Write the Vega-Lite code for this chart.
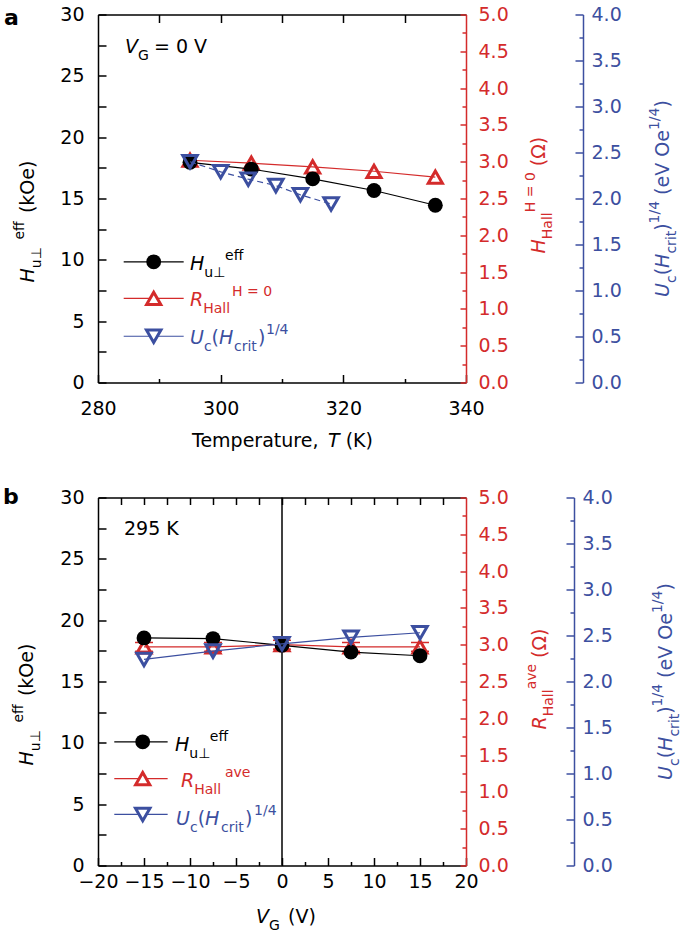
{
"$schema": "https://vega.github.io/schema/vega-lite/v6.json",
"padding": {"left": 2, "top": 5.5, "right": 0, "bottom": 0},
"bounds": "flush",
"spacing": 115,
"config": {
  "view": {"stroke": null},
  "font": "DejaVu Sans",
  "axis": {"grid": false, "labelFont": "DejaVu Sans", "labelFontSize": 19, "labelColor": "black", "domainWidth": 1.5, "tickWidth": 1.5, "domainColor": "black", "tickColor": "black", "labelOverlap": false, "labelFlush": false, "labelBound": false}
},
"datasets": {
  "aH": [{"T":295,"H":17.95},{"T":305,"H":17.4},{"T":315,"H":16.6},{"T":325,"H":15.65},{"T":335,"H":14.45}],
  "aR": [{"T":295,"R":3.02},{"T":305,"R":2.98},{"T":315,"R":2.93},{"T":325,"R":2.87},{"T":335,"R":2.79}],
  "aU": [{"T":295,"U":2.40},{"T":300,"U":2.29},{"T":304.5,"U":2.21},{"T":309,"U":2.14},{"T":313,"U":2.04},{"T":318,"U":1.94}],
  "aL": [{"c":"k","x1":284.19,"x2":293.97,"xm":289.08,"y":9.84},{"c":"r","x1":284.19,"x2":293.97,"xm":289.08,"y":6.85},{"c":"b","x1":284.19,"x2":293.97,"xm":289.08,"y":3.77}],
  "aT": [
    {"t":"a","x":264.67,"y":29.18,"k":"bold","c":"k"},
    {"t":"V","x":284.40,"y":26.90,"k":"var","c":"k"},
    {"t":"G","x":286.52,"y":26.90,"k":"sub","c":"k"},
    {"t":"= 0 V","x":289.13,"y":26.90,"k":"txt","c":"k"},
    {"t":"H","x":295.00,"y":9.21,"k":"var","c":"k"},
    {"t":"u⊥","x":297.33,"y":9.21,"k":"sub","c":"k"},
    {"t":"eff","x":300.71,"y":9.21,"k":"sup","c":"k"},
    {"t":"R","x":295.00,"y":6.20,"k":"var","c":"r"},
    {"t":"Hall","x":297.15,"y":6.20,"k":"sub","c":"r"},
    {"t":"H = 0","x":301.85,"y":6.20,"k":"sup","c":"r"},
    {"t":"U","x":295.00,"y":3.10,"k":"var","c":"b"},
    {"t":"c","x":297.27,"y":3.10,"k":"sub","c":"b"},
    {"t":"(","x":298.52,"y":3.10,"k":"txt","c":"b"},
    {"t":"H","x":299.73,"y":3.10,"k":"var","c":"b"},
    {"t":"crit","x":302.17,"y":3.10,"k":"sub","c":"b"},
    {"t":")","x":306.09,"y":3.10,"k":"txt","c":"b"},
    {"t":"1/4","x":307.39,"y":3.10,"k":"sup","c":"b"},
    {"t":"Temperature,","x":295.33,"y":-5.22,"k":"txt","c":"k"},
    {"t":"T","x":317.52,"y":-5.22,"k":"var","c":"k"},
    {"t":"(K)","x":320.38,"y":-5.22,"k":"txt","c":"k"},
    {"t":"H","x":269.57,"y":8.15,"k":"rvar","c":"k"},
    {"t":"u⊥","x":269.57,"y":9.32,"k":"rsub","c":"k"},
    {"t":"eff","x":269.57,"y":11.65,"k":"rsup","c":"k"},
    {"t":"(kOe)","x":269.57,"y":13.81,"k":"rtxt","c":"k"},
    {"t":"H","x":352.88,"y":10.52,"k":"rvar","c":"r"},
    {"t":"Hall","x":352.88,"y":11.68,"k":"rsub","c":"r"},
    {"t":"H = 0","x":352.88,"y":13.88,"k":"rsup","c":"r"},
    {"t":"(Ω)","x":352.88,"y":17.63,"k":"rtxt","c":"r"},
    {"t":"U","x":373.10,"y":6.98,"k":"rvar","c":"b"},
    {"t":"c","x":373.10,"y":8.11,"k":"rsub","c":"b"},
    {"t":"(","x":373.10,"y":8.74,"k":"rtxt","c":"b"},
    {"t":"H","x":373.10,"y":9.34,"k":"rvar","c":"b"},
    {"t":"crit","x":373.10,"y":10.51,"k":"rsub","c":"b"},
    {"t":")","x":373.10,"y":12.37,"k":"rtxt","c":"b"},
    {"t":"1/4","x":373.10,"y":12.97,"k":"rsup","c":"b"},
    {"t":"(eV Oe","x":373.10,"y":15.29,"k":"rtxt","c":"b"},
    {"t":"1/4","x":373.10,"y":20.58,"k":"rsup","c":"b"},
    {"t":")","x":373.10,"y":22.41,"k":"rtxt","c":"b"}
  ],
  "bH": [{"V":-15,"H":18.55},{"V":-7.5,"H":18.5},{"V":0,"H":17.95},{"V":7.5,"H":17.4},{"V":15,"H":17.1}],
  "bR": [{"V":-15,"R":2.97,"lo":2.91,"hi":3.03},{"V":-7.5,"R":2.97,"lo":2.91,"hi":3.03},{"V":0,"R":3.0,"lo":2.94,"hi":3.06},{"V":7.5,"R":2.97,"lo":2.91,"hi":3.03},{"V":15,"R":2.97,"lo":2.91,"hi":3.03}],
  "bU": [{"V":-15,"U":2.24},{"V":-7.5,"U":2.33},{"V":0,"U":2.41},{"V":7.5,"U":2.48},{"V":15,"U":2.53}],
  "bZ": [{"V":0}],
  "bL": [{"c":"k","x1":-18.23,"x2":-12.43,"xm":-15.14,"y":10.08},{"c":"r","x1":-18.23,"x2":-12.43,"xm":-15.14,"y":7.09},{"c":"b","x1":-18.23,"x2":-12.43,"xm":-15.14,"y":4.16}],
  "bT": [
    {"t":"b","x":-30.33,"y":29.43,"k":"bold","c":"k"},
    {"t":"295 K","x":-17.17,"y":26.98,"k":"txt","c":"k"},
    {"t":"H","x":-11.63,"y":9.375,"k":"var","c":"k"},
    {"t":"u⊥","x":-10.08,"y":9.375,"k":"sub","c":"k"},
    {"t":"eff","x":-7.84,"y":9.375,"k":"sup","c":"k"},
    {"t":"R","x":-10.98,"y":6.36,"k":"var","c":"r"},
    {"t":"Hall","x":-9.54,"y":6.36,"k":"sub","c":"r"},
    {"t":"ave","x":-6.20,"y":6.36,"k":"sup","c":"r"},
    {"t":"U","x":-11.52,"y":3.34,"k":"var","c":"b"},
    {"t":"c","x":-10.01,"y":3.34,"k":"sub","c":"b"},
    {"t":"(","x":-9.17,"y":3.34,"k":"txt","c":"b"},
    {"t":"H","x":-8.37,"y":3.34,"k":"var","c":"b"},
    {"t":"crit","x":-6.63,"y":3.34,"k":"sub","c":"b"},
    {"t":")","x":-4.02,"y":3.34,"k":"txt","c":"b"},
    {"t":"1/4","x":-3.04,"y":3.34,"k":"sup","c":"b"},
    {"t":"V","x":-2.83,"y":-4.65,"k":"var","c":"k"},
    {"t":"G","x":-1.41,"y":-4.65,"k":"sub","c":"k"},
    {"t":"(V)","x":0.65,"y":-4.65,"k":"txt","c":"k"},
    {"t":"H","x":-27.07,"y":8.15,"k":"rvar","c":"k"},
    {"t":"u⊥","x":-27.07,"y":9.32,"k":"rsub","c":"k"},
    {"t":"eff","x":-27.07,"y":11.65,"k":"rsup","c":"k"},
    {"t":"(kOe)","x":-27.07,"y":13.81,"k":"rtxt","c":"k"},
    {"t":"R","x":28.70,"y":11.09,"k":"rvar","c":"r"},
    {"t":"Hall","x":28.70,"y":12.16,"k":"rsub","c":"r"},
    {"t":"ave","x":28.70,"y":14.36,"k":"rsup","c":"r"},
    {"t":"(Ω)","x":28.70,"y":16.92,"k":"rtxt","c":"r"},
    {"t":"U","x":42.39,"y":6.98,"k":"rvar","c":"b"},
    {"t":"c","x":42.39,"y":8.11,"k":"rsub","c":"b"},
    {"t":"(","x":42.39,"y":8.74,"k":"rtxt","c":"b"},
    {"t":"H","x":42.39,"y":9.34,"k":"rvar","c":"b"},
    {"t":"crit","x":42.39,"y":10.51,"k":"rsub","c":"b"},
    {"t":")","x":42.39,"y":12.37,"k":"rtxt","c":"b"},
    {"t":"1/4","x":42.39,"y":12.97,"k":"rsup","c":"b"},
    {"t":"(eV Oe","x":42.39,"y":15.29,"k":"rtxt","c":"b"},
    {"t":"1/4","x":42.39,"y":20.58,"k":"rsup","c":"b"},
    {"t":")","x":42.39,"y":22.41,"k":"rtxt","c":"b"}
  ]
},
"vconcat": [
{
  "width": 368, "height": 368,
  "resolve": {"scale": {"y": "independent"}, "axis": {"x": "independent", "y": "independent"}},
  "layer": [
    {"data": {"name": "aR"}, "mark": {"type": "line", "color": "#d42b2b", "strokeWidth": 1.2},
     "encoding": {
      "x": {"field": "T", "type": "quantitative", "scale": {"domain": [280, 340], "nice": false}, "axis": {"orient": "top", "values": [290, 300, 310, 320, 330], "labels": false, "tickSize": -8, "title": null}},
      "y": {"field": "R", "type": "quantitative", "scale": {"domain": [0, 5], "nice": false}, "axis": {"orient": "right", "values": [0,0.5,1,1.5,2,2.5,3,3.5,4,4.5,5], "format": ".1f", "tickSize": -6, "labelPadding": 18, "domainColor": "#d42b2b", "tickColor": "#d42b2b", "labelColor": "#d42b2b", "title": null}}}},
    {"data": {"name": "aR"}, "mark": {"type": "point", "shape": "triangle-up", "filled": false, "color": "#d42b2b", "strokeWidth": 3, "size": 200, "opacity": 1},
     "encoding": {
      "x": {"field": "T", "type": "quantitative", "scale": {"domain": [280, 340], "nice": false}, "axis": null},
      "y": {"field": "R", "type": "quantitative", "scale": {"domain": [0, 5], "nice": false}, "axis": {"orient": "right", "values": [0.25,0.75,1.25,1.75,2.25,2.75,3.25,3.75,4.25,4.75], "labels": false, "domain": false, "tickSize": -4, "tickColor": "#d42b2b", "title": null}}}},
    {"data": {"name": "aH"}, "mark": {"type": "line", "color": "black", "strokeWidth": 1.2},
     "encoding": {
      "x": {"field": "T", "type": "quantitative", "scale": {"domain": [280, 340], "nice": false}, "axis": {"orient": "bottom", "values": [280, 300, 320, 340], "tickSize": -8, "labelPadding": 25, "title": null}},
      "y": {"field": "H", "type": "quantitative", "scale": {"domain": [0, 30], "nice": false}, "axis": {"orient": "left", "values": [0,2.5,5,7.5,10,12.5,15,17.5,20,22.5,25,27.5,30], "labelExpr": "datum.value % 5 === 0 ? datum.label : ''", "tickSize": -8, "labelPadding": 22, "title": null}}}},
    {"data": {"name": "aH"}, "mark": {"type": "circle", "color": "black", "size": 220, "opacity": 1},
     "encoding": {
      "x": {"field": "T", "type": "quantitative", "scale": {"domain": [280, 340], "nice": false}, "axis": {"orient": "bottom", "values": [290, 310, 330], "labels": false, "domain": false, "tickSize": -4, "title": null}},
      "y": {"field": "H", "type": "quantitative", "scale": {"domain": [0, 30], "nice": false}, "axis": null}}},
    {"data": {"name": "aU"}, "mark": {"type": "line", "color": "#3c4fa0", "strokeWidth": 1.2, "strokeDash": [6, 4]},
     "encoding": {
      "x": {"field": "T", "type": "quantitative", "scale": {"domain": [280, 340], "nice": false}, "axis": null},
      "y": {"field": "U", "type": "quantitative", "scale": {"domain": [0, 4], "nice": false}, "axis": {"orient": "right", "offset": 117, "values": [0,0.5,1,1.5,2,2.5,3,3.5,4], "format": ".1f", "tickSize": -8, "labelPadding": 16, "domainColor": "#3c4fa0", "tickColor": "#3c4fa0", "labelColor": "#3c4fa0", "title": null}}}},
    {"data": {"name": "aU"}, "mark": {"type": "point", "shape": "triangle-down", "filled": false, "color": "#3c4fa0", "strokeWidth": 3, "size": 210, "opacity": 1},
     "encoding": {
      "x": {"field": "T", "type": "quantitative", "scale": {"domain": [280, 340], "nice": false}, "axis": null},
      "y": {"field": "U", "type": "quantitative", "scale": {"domain": [0, 4], "nice": false}, "axis": {"orient": "right", "offset": 117, "values": [0.25,0.75,1.25,1.75,2.25,2.75,3.25,3.75], "labels": false, "domain": false, "tickSize": -4, "tickColor": "#3c4fa0", "title": null}}}},
    {"data": {"name": "aL"}, "mark": {"type": "rule", "strokeWidth": 1.2},
     "encoding": {
      "x": {"field": "x1", "type": "quantitative", "scale": {"domain": [280, 340], "nice": false}, "axis": null},
      "x2": {"field": "x2"},
      "y": {"field": "y", "type": "quantitative", "scale": {"domain": [0, 30], "nice": false}, "axis": null},
      "color": {"field": "c", "type": "nominal", "scale": {"domain": ["k", "r", "b"], "range": ["#000000", "#d42b2b", "#3c4fa0"]}, "legend": null}}},
    {"data": {"name": "aL"}, "transform": [{"filter": "datum.c === 'k'"}], "mark": {"type": "circle", "color": "black", "size": 220, "opacity": 1},
     "encoding": {
      "x": {"field": "xm", "type": "quantitative", "scale": {"domain": [280, 340], "nice": false}, "axis": null},
      "y": {"field": "y", "type": "quantitative", "scale": {"domain": [0, 30], "nice": false}, "axis": null}}},
    {"data": {"name": "aL"}, "transform": [{"filter": "datum.c === 'r'"}], "mark": {"type": "point", "shape": "triangle-up", "filled": true, "fill": "white", "stroke": "#d42b2b", "strokeWidth": 3, "size": 200, "opacity": 1},
     "encoding": {
      "x": {"field": "xm", "type": "quantitative", "scale": {"domain": [280, 340], "nice": false}, "axis": null},
      "y": {"field": "y", "type": "quantitative", "scale": {"domain": [0, 30], "nice": false}, "axis": null}}},
    {"data": {"name": "aL"}, "transform": [{"filter": "datum.c === 'b'"}], "mark": {"type": "point", "shape": "triangle-down", "filled": true, "fill": "white", "stroke": "#3c4fa0", "strokeWidth": 3, "size": 210, "opacity": 1},
     "encoding": {
      "x": {"field": "xm", "type": "quantitative", "scale": {"domain": [280, 340], "nice": false}, "axis": null},
      "y": {"field": "y", "type": "quantitative", "scale": {"domain": [0, 30], "nice": false}, "axis": null}}},
    {"data": {"name": "aT"}, "transform": [{"filter": "datum.k === 'bold'"}], "mark": {"type": "text", "font": "DejaVu Sans", "fontSize": 22, "fontWeight": "bold", "align": "left", "baseline": "alphabetic"},
     "encoding": {"x": {"field": "x", "type": "quantitative", "scale": {"domain": [280, 340], "nice": false}, "axis": null}, "y": {"field": "y", "type": "quantitative", "scale": {"domain": [0, 30], "nice": false}, "axis": null}, "text": {"field": "t"}, "color": {"field": "c", "type": "nominal", "scale": {"domain": ["k", "r", "b"], "range": ["#000000", "#d42b2b", "#3c4fa0"]}, "legend": null}}},
    {"data": {"name": "aT"}, "transform": [{"filter": "datum.k === 'var'"}], "mark": {"type": "text", "font": "DejaVu Sans", "fontSize": 19, "fontStyle": "italic", "align": "left", "baseline": "alphabetic"},
     "encoding": {"x": {"field": "x", "type": "quantitative", "scale": {"domain": [280, 340], "nice": false}, "axis": null}, "y": {"field": "y", "type": "quantitative", "scale": {"domain": [0, 30], "nice": false}, "axis": null}, "text": {"field": "t"}, "color": {"field": "c", "type": "nominal", "scale": {"domain": ["k", "r", "b"], "range": ["#000000", "#d42b2b", "#3c4fa0"]}, "legend": null}}},
    {"data": {"name": "aT"}, "transform": [{"filter": "datum.k === 'txt'"}], "mark": {"type": "text", "font": "DejaVu Sans", "fontSize": 19, "align": "left", "baseline": "alphabetic"},
     "encoding": {"x": {"field": "x", "type": "quantitative", "scale": {"domain": [280, 340], "nice": false}, "axis": null}, "y": {"field": "y", "type": "quantitative", "scale": {"domain": [0, 30], "nice": false}, "axis": null}, "text": {"field": "t"}, "color": {"field": "c", "type": "nominal", "scale": {"domain": ["k", "r", "b"], "range": ["#000000", "#d42b2b", "#3c4fa0"]}, "legend": null}}},
    {"data": {"name": "aT"}, "transform": [{"filter": "datum.k === 'sub'"}], "mark": {"type": "text", "font": "DejaVu Sans", "fontSize": 14, "dy": 7, "align": "left", "baseline": "alphabetic"},
     "encoding": {"x": {"field": "x", "type": "quantitative", "scale": {"domain": [280, 340], "nice": false}, "axis": null}, "y": {"field": "y", "type": "quantitative", "scale": {"domain": [0, 30], "nice": false}, "axis": null}, "text": {"field": "t"}, "color": {"field": "c", "type": "nominal", "scale": {"domain": ["k", "r", "b"], "range": ["#000000", "#d42b2b", "#3c4fa0"]}, "legend": null}}},
    {"data": {"name": "aT"}, "transform": [{"filter": "datum.k === 'sup'"}], "mark": {"type": "text", "font": "DejaVu Sans", "fontSize": 14, "dy": -10, "align": "left", "baseline": "alphabetic"},
     "encoding": {"x": {"field": "x", "type": "quantitative", "scale": {"domain": [280, 340], "nice": false}, "axis": null}, "y": {"field": "y", "type": "quantitative", "scale": {"domain": [0, 30], "nice": false}, "axis": null}, "text": {"field": "t"}, "color": {"field": "c", "type": "nominal", "scale": {"domain": ["k", "r", "b"], "range": ["#000000", "#d42b2b", "#3c4fa0"]}, "legend": null}}},
    {"data": {"name": "aT"}, "transform": [{"filter": "datum.k === 'rvar'"}], "mark": {"type": "text", "font": "DejaVu Sans", "fontSize": 19, "fontStyle": "italic", "angle": 270, "align": "left", "baseline": "alphabetic"},
     "encoding": {"x": {"field": "x", "type": "quantitative", "scale": {"domain": [280, 340], "nice": false}, "axis": null}, "y": {"field": "y", "type": "quantitative", "scale": {"domain": [0, 30], "nice": false}, "axis": null}, "text": {"field": "t"}, "color": {"field": "c", "type": "nominal", "scale": {"domain": ["k", "r", "b"], "range": ["#000000", "#d42b2b", "#3c4fa0"]}, "legend": null}}},
    {"data": {"name": "aT"}, "transform": [{"filter": "datum.k === 'rtxt'"}], "mark": {"type": "text", "font": "DejaVu Sans", "fontSize": 19, "angle": 270, "align": "left", "baseline": "alphabetic"},
     "encoding": {"x": {"field": "x", "type": "quantitative", "scale": {"domain": [280, 340], "nice": false}, "axis": null}, "y": {"field": "y", "type": "quantitative", "scale": {"domain": [0, 30], "nice": false}, "axis": null}, "text": {"field": "t"}, "color": {"field": "c", "type": "nominal", "scale": {"domain": ["k", "r", "b"], "range": ["#000000", "#d42b2b", "#3c4fa0"]}, "legend": null}}},
    {"data": {"name": "aT"}, "transform": [{"filter": "datum.k === 'rsub'"}], "mark": {"type": "text", "font": "DejaVu Sans", "fontSize": 14, "dy": 7, "angle": 270, "align": "left", "baseline": "alphabetic"},
     "encoding": {"x": {"field": "x", "type": "quantitative", "scale": {"domain": [280, 340], "nice": false}, "axis": null}, "y": {"field": "y", "type": "quantitative", "scale": {"domain": [0, 30], "nice": false}, "axis": null}, "text": {"field": "t"}, "color": {"field": "c", "type": "nominal", "scale": {"domain": ["k", "r", "b"], "range": ["#000000", "#d42b2b", "#3c4fa0"]}, "legend": null}}},
    {"data": {"name": "aT"}, "transform": [{"filter": "datum.k === 'rsup'"}], "mark": {"type": "text", "font": "DejaVu Sans", "fontSize": 14, "dy": -10, "angle": 270, "align": "left", "baseline": "alphabetic"},
     "encoding": {"x": {"field": "x", "type": "quantitative", "scale": {"domain": [280, 340], "nice": false}, "axis": null}, "y": {"field": "y", "type": "quantitative", "scale": {"domain": [0, 30], "nice": false}, "axis": null}, "text": {"field": "t"}, "color": {"field": "c", "type": "nominal", "scale": {"domain": ["k", "r", "b"], "range": ["#000000", "#d42b2b", "#3c4fa0"]}, "legend": null}}}
  ]
},
{
  "width": 368, "height": 368,
  "resolve": {"scale": {"y": "independent"}, "axis": {"x": "independent", "y": "independent"}},
  "layer": [
    {"data": {"name": "bZ"}, "mark": {"type": "rule", "color": "black", "strokeWidth": 1.5},
     "encoding": {"x": {"field": "V", "type": "quantitative", "scale": {"domain": [-20, 20], "nice": false}, "axis": null}}},
    {"data": {"name": "bR"}, "mark": {"type": "line", "color": "#d42b2b", "strokeWidth": 1.2},
     "encoding": {
      "x": {"field": "V", "type": "quantitative", "scale": {"domain": [-20, 20], "nice": false}, "axis": {"orient": "top", "values": [-17.5,-15,-12.5,-10,-7.5,-5,-2.5,0,2.5,5,7.5,10,12.5,15,17.5], "labels": false, "tickSize": -7, "title": null}},
      "y": {"field": "R", "type": "quantitative", "scale": {"domain": [0, 5], "nice": false}, "axis": {"orient": "right", "values": [0,0.5,1,1.5,2,2.5,3,3.5,4,4.5,5], "format": ".1f", "tickSize": -6, "labelPadding": 18, "domainColor": "#d42b2b", "tickColor": "#d42b2b", "labelColor": "#d42b2b", "title": null}}}},
    {"data": {"name": "bR"}, "mark": {"type": "point", "shape": "triangle-up", "filled": false, "color": "#d42b2b", "strokeWidth": 3, "size": 200, "opacity": 1},
     "encoding": {
      "x": {"field": "V", "type": "quantitative", "scale": {"domain": [-20, 20], "nice": false}, "axis": null},
      "y": {"field": "R", "type": "quantitative", "scale": {"domain": [0, 5], "nice": false}, "axis": {"orient": "right", "values": [0.25,0.75,1.25,1.75,2.25,2.75,3.25,3.75,4.25,4.75], "labels": false, "domain": false, "tickSize": -4, "tickColor": "#d42b2b", "title": null}}}},
    {"data": {"name": "bR"}, "mark": {"type": "tick", "orient": "horizontal", "color": "#d42b2b", "size": 18, "thickness": 1.5, "opacity": 1},
     "encoding": {
      "x": {"field": "V", "type": "quantitative", "scale": {"domain": [-20, 20], "nice": false}, "axis": null},
      "y": {"field": "lo", "type": "quantitative", "scale": {"domain": [0, 5], "nice": false}, "axis": null}}},
    {"data": {"name": "bR"}, "mark": {"type": "tick", "orient": "horizontal", "color": "#d42b2b", "size": 18, "thickness": 1.5, "opacity": 1},
     "encoding": {
      "x": {"field": "V", "type": "quantitative", "scale": {"domain": [-20, 20], "nice": false}, "axis": null},
      "y": {"field": "hi", "type": "quantitative", "scale": {"domain": [0, 5], "nice": false}, "axis": null}}},
    {"data": {"name": "bH"}, "mark": {"type": "line", "color": "black", "strokeWidth": 1.2},
     "encoding": {
      "x": {"field": "V", "type": "quantitative", "scale": {"domain": [-20, 20], "nice": false}, "axis": {"orient": "bottom", "values": [-20,-15,-10,-5,0,5,10,15,20], "tickSize": -8, "labelPadding": 15, "title": null}},
      "y": {"field": "H", "type": "quantitative", "scale": {"domain": [0, 30], "nice": false}, "axis": {"orient": "left", "values": [0,2.5,5,7.5,10,12.5,15,17.5,20,22.5,25,27.5,30], "labelExpr": "datum.value % 5 === 0 ? datum.label : ''", "tickSize": -8, "labelPadding": 22, "title": null}}}},
    {"data": {"name": "bH"}, "mark": {"type": "circle", "color": "black", "size": 220, "opacity": 1},
     "encoding": {
      "x": {"field": "V", "type": "quantitative", "scale": {"domain": [-20, 20], "nice": false}, "axis": {"orient": "bottom", "values": [-17.5,-12.5,-7.5,-2.5,2.5,7.5,12.5,17.5], "labels": false, "domain": false, "tickSize": -4, "title": null}},
      "y": {"field": "H", "type": "quantitative", "scale": {"domain": [0, 30], "nice": false}, "axis": null}}},
    {"data": {"name": "bU"}, "mark": {"type": "line", "color": "#3c4fa0", "strokeWidth": 1.2},
     "encoding": {
      "x": {"field": "V", "type": "quantitative", "scale": {"domain": [-20, 20], "nice": false}, "axis": null},
      "y": {"field": "U", "type": "quantitative", "scale": {"domain": [0, 4], "nice": false}, "axis": {"orient": "right", "offset": 108, "values": [0,0.5,1,1.5,2,2.5,3,3.5,4], "format": ".1f", "tickSize": -8, "labelPadding": 16, "domainColor": "#3c4fa0", "tickColor": "#3c4fa0", "labelColor": "#3c4fa0", "title": null}}}},
    {"data": {"name": "bU"}, "mark": {"type": "point", "shape": "triangle-down", "filled": false, "color": "#3c4fa0", "strokeWidth": 3, "size": 210, "opacity": 1},
     "encoding": {
      "x": {"field": "V", "type": "quantitative", "scale": {"domain": [-20, 20], "nice": false}, "axis": null},
      "y": {"field": "U", "type": "quantitative", "scale": {"domain": [0, 4], "nice": false}, "axis": {"orient": "right", "offset": 108, "values": [0.25,0.75,1.25,1.75,2.25,2.75,3.25,3.75], "labels": false, "domain": false, "tickSize": -4, "tickColor": "#3c4fa0", "title": null}}}},
    {"data": {"name": "bL"}, "mark": {"type": "rule", "strokeWidth": 1.2},
     "encoding": {
      "x": {"field": "x1", "type": "quantitative", "scale": {"domain": [-20, 20], "nice": false}, "axis": null},
      "x2": {"field": "x2"},
      "y": {"field": "y", "type": "quantitative", "scale": {"domain": [0, 30], "nice": false}, "axis": null},
      "color": {"field": "c", "type": "nominal", "scale": {"domain": ["k", "r", "b"], "range": ["#000000", "#d42b2b", "#3c4fa0"]}, "legend": null}}},
    {"data": {"name": "bL"}, "transform": [{"filter": "datum.c === 'k'"}], "mark": {"type": "circle", "color": "black", "size": 220, "opacity": 1},
     "encoding": {
      "x": {"field": "xm", "type": "quantitative", "scale": {"domain": [-20, 20], "nice": false}, "axis": null},
      "y": {"field": "y", "type": "quantitative", "scale": {"domain": [0, 30], "nice": false}, "axis": null}}},
    {"data": {"name": "bL"}, "transform": [{"filter": "datum.c === 'r'"}], "mark": {"type": "point", "shape": "triangle-up", "filled": true, "fill": "white", "stroke": "#d42b2b", "strokeWidth": 3, "size": 200, "opacity": 1},
     "encoding": {
      "x": {"field": "xm", "type": "quantitative", "scale": {"domain": [-20, 20], "nice": false}, "axis": null},
      "y": {"field": "y", "type": "quantitative", "scale": {"domain": [0, 30], "nice": false}, "axis": null}}},
    {"data": {"name": "bL"}, "transform": [{"filter": "datum.c === 'b'"}], "mark": {"type": "point", "shape": "triangle-down", "filled": true, "fill": "white", "stroke": "#3c4fa0", "strokeWidth": 3, "size": 210, "opacity": 1},
     "encoding": {
      "x": {"field": "xm", "type": "quantitative", "scale": {"domain": [-20, 20], "nice": false}, "axis": null},
      "y": {"field": "y", "type": "quantitative", "scale": {"domain": [0, 30], "nice": false}, "axis": null}}},
    {"data": {"name": "bT"}, "transform": [{"filter": "datum.k === 'bold'"}], "mark": {"type": "text", "font": "DejaVu Sans", "fontSize": 22, "fontWeight": "bold", "align": "left", "baseline": "alphabetic"},
     "encoding": {"x": {"field": "x", "type": "quantitative", "scale": {"domain": [-20, 20], "nice": false}, "axis": null}, "y": {"field": "y", "type": "quantitative", "scale": {"domain": [0, 30], "nice": false}, "axis": null}, "text": {"field": "t"}, "color": {"field": "c", "type": "nominal", "scale": {"domain": ["k", "r", "b"], "range": ["#000000", "#d42b2b", "#3c4fa0"]}, "legend": null}}},
    {"data": {"name": "bT"}, "transform": [{"filter": "datum.k === 'var'"}], "mark": {"type": "text", "font": "DejaVu Sans", "fontSize": 19, "fontStyle": "italic", "align": "left", "baseline": "alphabetic"},
     "encoding": {"x": {"field": "x", "type": "quantitative", "scale": {"domain": [-20, 20], "nice": false}, "axis": null}, "y": {"field": "y", "type": "quantitative", "scale": {"domain": [0, 30], "nice": false}, "axis": null}, "text": {"field": "t"}, "color": {"field": "c", "type": "nominal", "scale": {"domain": ["k", "r", "b"], "range": ["#000000", "#d42b2b", "#3c4fa0"]}, "legend": null}}},
    {"data": {"name": "bT"}, "transform": [{"filter": "datum.k === 'txt'"}], "mark": {"type": "text", "font": "DejaVu Sans", "fontSize": 19, "align": "left", "baseline": "alphabetic"},
     "encoding": {"x": {"field": "x", "type": "quantitative", "scale": {"domain": [-20, 20], "nice": false}, "axis": null}, "y": {"field": "y", "type": "quantitative", "scale": {"domain": [0, 30], "nice": false}, "axis": null}, "text": {"field": "t"}, "color": {"field": "c", "type": "nominal", "scale": {"domain": ["k", "r", "b"], "range": ["#000000", "#d42b2b", "#3c4fa0"]}, "legend": null}}},
    {"data": {"name": "bT"}, "transform": [{"filter": "datum.k === 'sub'"}], "mark": {"type": "text", "font": "DejaVu Sans", "fontSize": 14, "dy": 7, "align": "left", "baseline": "alphabetic"},
     "encoding": {"x": {"field": "x", "type": "quantitative", "scale": {"domain": [-20, 20], "nice": false}, "axis": null}, "y": {"field": "y", "type": "quantitative", "scale": {"domain": [0, 30], "nice": false}, "axis": null}, "text": {"field": "t"}, "color": {"field": "c", "type": "nominal", "scale": {"domain": ["k", "r", "b"], "range": ["#000000", "#d42b2b", "#3c4fa0"]}, "legend": null}}},
    {"data": {"name": "bT"}, "transform": [{"filter": "datum.k === 'sup'"}], "mark": {"type": "text", "font": "DejaVu Sans", "fontSize": 14, "dy": -10, "align": "left", "baseline": "alphabetic"},
     "encoding": {"x": {"field": "x", "type": "quantitative", "scale": {"domain": [-20, 20], "nice": false}, "axis": null}, "y": {"field": "y", "type": "quantitative", "scale": {"domain": [0, 30], "nice": false}, "axis": null}, "text": {"field": "t"}, "color": {"field": "c", "type": "nominal", "scale": {"domain": ["k", "r", "b"], "range": ["#000000", "#d42b2b", "#3c4fa0"]}, "legend": null}}},
    {"data": {"name": "bT"}, "transform": [{"filter": "datum.k === 'rvar'"}], "mark": {"type": "text", "font": "DejaVu Sans", "fontSize": 19, "fontStyle": "italic", "angle": 270, "align": "left", "baseline": "alphabetic"},
     "encoding": {"x": {"field": "x", "type": "quantitative", "scale": {"domain": [-20, 20], "nice": false}, "axis": null}, "y": {"field": "y", "type": "quantitative", "scale": {"domain": [0, 30], "nice": false}, "axis": null}, "text": {"field": "t"}, "color": {"field": "c", "type": "nominal", "scale": {"domain": ["k", "r", "b"], "range": ["#000000", "#d42b2b", "#3c4fa0"]}, "legend": null}}},
    {"data": {"name": "bT"}, "transform": [{"filter": "datum.k === 'rtxt'"}], "mark": {"type": "text", "font": "DejaVu Sans", "fontSize": 19, "angle": 270, "align": "left", "baseline": "alphabetic"},
     "encoding": {"x": {"field": "x", "type": "quantitative", "scale": {"domain": [-20, 20], "nice": false}, "axis": null}, "y": {"field": "y", "type": "quantitative", "scale": {"domain": [0, 30], "nice": false}, "axis": null}, "text": {"field": "t"}, "color": {"field": "c", "type": "nominal", "scale": {"domain": ["k", "r", "b"], "range": ["#000000", "#d42b2b", "#3c4fa0"]}, "legend": null}}},
    {"data": {"name": "bT"}, "transform": [{"filter": "datum.k === 'rsub'"}], "mark": {"type": "text", "font": "DejaVu Sans", "fontSize": 14, "dy": 7, "angle": 270, "align": "left", "baseline": "alphabetic"},
     "encoding": {"x": {"field": "x", "type": "quantitative", "scale": {"domain": [-20, 20], "nice": false}, "axis": null}, "y": {"field": "y", "type": "quantitative", "scale": {"domain": [0, 30], "nice": false}, "axis": null}, "text": {"field": "t"}, "color": {"field": "c", "type": "nominal", "scale": {"domain": ["k", "r", "b"], "range": ["#000000", "#d42b2b", "#3c4fa0"]}, "legend": null}}},
    {"data": {"name": "bT"}, "transform": [{"filter": "datum.k === 'rsup'"}], "mark": {"type": "text", "font": "DejaVu Sans", "fontSize": 14, "dy": -10, "angle": 270, "align": "left", "baseline": "alphabetic"},
     "encoding": {"x": {"field": "x", "type": "quantitative", "scale": {"domain": [-20, 20], "nice": false}, "axis": null}, "y": {"field": "y", "type": "quantitative", "scale": {"domain": [0, 30], "nice": false}, "axis": null}, "text": {"field": "t"}, "color": {"field": "c", "type": "nominal", "scale": {"domain": ["k", "r", "b"], "range": ["#000000", "#d42b2b", "#3c4fa0"]}, "legend": null}}}
  ]
}
]
}
